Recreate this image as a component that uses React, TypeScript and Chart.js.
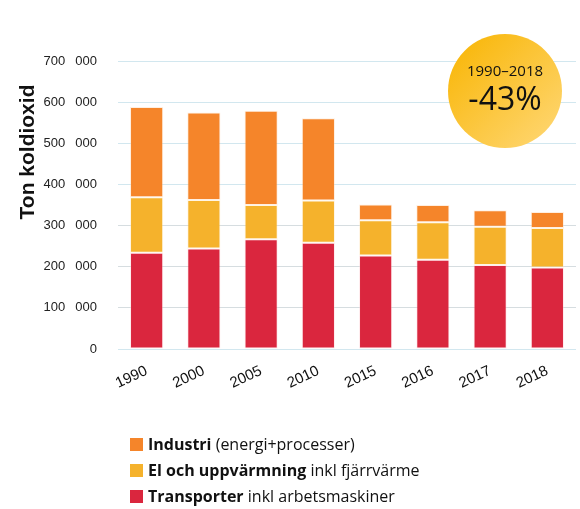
import React, { useEffect, useRef } from "react";
import { Chart, registerables } from "chart.js";

Chart.register(...registerables);

const years = ["1990", "2000", "2005", "2010", "2015", "2016", "2017", "2018"];
const transporter = [234000, 244000, 267000, 258000, 227000, 217000, 204000, 198000];
const elUppvarmning = [135000, 118000, 83000, 103000, 86000, 91000, 93000, 96000];
const industri = [219000, 213000, 229000, 200000, 38000, 42000, 40000, 39000];
const yTicks = [0, 100000, 200000, 300000, 400000, 500000, 600000, 700000];

const W = 580;
const H = 509;

const fmt = (v: number) => (v === 0 ? "0" : `${Math.round(v / 1000)}\u2002 000`);

const extras = {
  id: "extras",
  afterDraw(chart: any) {
    const ctx = chart.ctx;
    ctx.save();
    // axis title
    ctx.translate(28, 152);
    ctx.rotate(-Math.PI / 2);
    ctx.fillStyle = "#111";
    ctx.font = "bold 21px 'Liberation Sans', Arial, sans-serif";
    ctx.textAlign = "center";
    ctx.textBaseline = "middle";
    ctx.fillText("Ton koldioxid", 0, 0);
    ctx.restore();

    // badge
    ctx.save();
    const cx = 505, cy = 91, r = 57;
    const g = ctx.createLinearGradient(cx - r, cy - r, cx + r, cy + r);
    g.addColorStop(0, "#F8B400");
    g.addColorStop(1, "#FFD878");
    ctx.beginPath();
    ctx.arc(cx, cy, r, 0, Math.PI * 2);
    ctx.fillStyle = g;
    ctx.fill();
    ctx.fillStyle = "#111";
    ctx.textAlign = "center";
    ctx.textBaseline = "middle";
    ctx.font = "15px 'Open Sans', sans-serif";
    ctx.fillText("1990\u20132018", cx, 72);
    ctx.font = "32px 'Open Sans', sans-serif";
    ctx.fillText("-43%", cx, 101);
    ctx.restore();

    // legend
    const items = [
      { c: "#F5852A", b: "Industri", n: " (energi+processer)" },
      { c: "#F5B22C", b: "El och uppvärmning", n: " inkl fjärrvärme" },
      { c: "#DA263E", b: "Transporter", n: " inkl arbetsmaskiner" },
    ];
    ctx.save();
    ctx.textBaseline = "middle";
    ctx.textAlign = "left";
    items.forEach((it, i) => {
      const y = 445 + i * 26;
      ctx.fillStyle = it.c;
      ctx.fillRect(130, y - 7, 13, 13);
      ctx.fillStyle = "#111";
      ctx.font = "bold 16px 'Open Sans', sans-serif";
      ctx.fillText(it.b, 148, y);
      const wb = ctx.measureText(it.b).width;
      ctx.font = "16px 'Open Sans', sans-serif";
      ctx.fillText(it.n, 148 + wb, y);
    });
    ctx.restore();
  },
};

export default function App() {
  const ref = useRef<HTMLCanvasElement>(null);
  useEffect(() => {
    if (!ref.current) return;
    const chart = new Chart(ref.current, {
      type: "bar",
      data: {
        labels: years,
        datasets: [
          { label: "Transporter", data: transporter, backgroundColor: "#DA263E", borderColor: "rgba(255,200,205,0.35)", borderWidth: 1, borderSkipped: false },
          { label: "El och uppvärmning", data: elUppvarmning, backgroundColor: "#F5B22C", borderColor: "rgba(255,225,180,0.35)", borderWidth: 1, borderSkipped: false },
          { label: "Industri", data: industri, backgroundColor: "#F5852A", borderColor: "rgba(255,210,170,0.35)", borderWidth: 1, borderSkipped: false },
        ],
      },
      options: {
        animation: false,
        responsive: false,
        maintainAspectRatio: false,
        layout: { padding: { top: 61, right: 4, left: 0, bottom: 0 } },
        plugins: { legend: { display: false }, tooltip: { enabled: false } },
        datasets: { bar: { barPercentage: 0.58, categoryPercentage: 1 } },
        scales: {
          x: {
            stacked: true,
            grid: { display: false, drawTicks: false },
            border: { display: false },
            ticks: {
              minRotation: 25,
              maxRotation: 25,
              padding: 13,
              color: "#111",
              font: { family: "'Liberation Sans', Arial, sans-serif", size: 15 },
            },
            afterFit: (s: any) => { s.height = H - 349; },
          },
          y: {
            stacked: true,
            min: 0,
            max: 700000,
            afterBuildTicks: (s: any) => { s.ticks = yTicks.map((v) => ({ value: v })); },
            grid: {
              drawTicks: false,
              color: (c: any) => (c.tick && c.tick.value >= 100000 && c.tick.value <= 300000 ? "#d6dde0" : "#d2e7ef"),
              lineWidth: 1,
            },
            border: { display: false },
            ticks: {
              padding: 21,
              color: "#222",
              font: { family: "'Liberation Sans', Arial, sans-serif", size: 13 },
              callback: (v: any) => fmt(Number(v)),
            },
            afterFit: (s: any) => { s.width = 118; },
          },
        },
      },
      plugins: [extras],
    });
    return () => chart.destroy();
  }, []);
  return (
    <div style={{ position: "fixed", left: 0, top: 0, width: W, height: H, background: "#fff" }}>
      <canvas ref={ref} width={W} height={H} style={{ width: W, height: H, display: "block" }} />
    </div>
  );
}
